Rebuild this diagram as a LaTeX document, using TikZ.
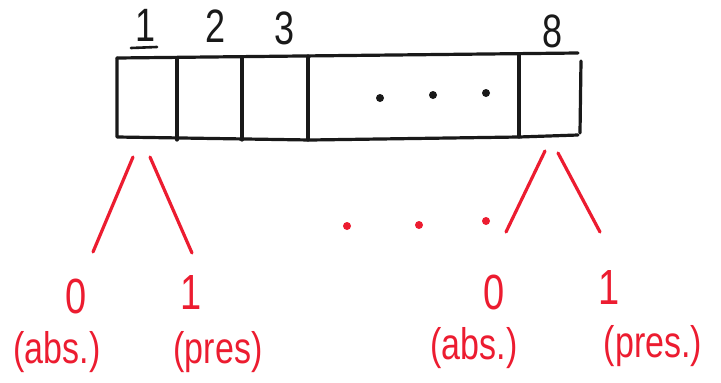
\documentclass[tikz,border=0pt]{standalone}
\usepackage{fontspec}
\setmainfont{Liberation Sans}
\definecolor{pen}{RGB}{236,28,48}
\definecolor{ink}{RGB}{25,25,25}
\newcommand{\tall}[1]{\scalebox{1}[1.3]{#1}}
\tikzset{
  inkline/.style={draw=ink, line width=3.2pt, line cap=round, line join=round},
  penline/.style={draw=pen, line width=3.2pt, line cap=round},
  cellnum/.style={text=ink, font=\fontsize{36}{40}\selectfont, inner sep=0pt},
  bitval/.style={text=pen, font=\fontsize{38}{42}\selectfont, inner sep=0pt},
  bitnote/.style={text=pen, font=\fontsize{34}{40}\selectfont, inner sep=0pt},
  pendot/.style={circle, fill=pen, inner sep=0pt, minimum size=8pt},
  inkdot/.style={circle, fill=ink, inner sep=0pt, minimum size=8pt}
}
\begin{document}
\begin{tikzpicture}[x=1pt, y=-1pt]
  \useasboundingbox (0,0) rectangle (721,383);

  % the register of eight cells
  \coordinate (tl) at (117,58);
  \coordinate (tr) at (578,53);
  \coordinate (bl) at (117,137);
  \coordinate (bm) at (310,140);
  \coordinate (br) at (578,135);
  \draw[inkline] (tl) -- (tr);
  \draw[inkline] (tl) -- (bl) -- (bm) -- (519,137) -- (br);
  \draw[inkline] (581,61) -- (580,133);
  \draw[inkline] (177,58) -- (177,140);
  \draw[inkline] (242,57) -- (242,140);
  \draw[inkline] (308,56) -- (308,140);
  \draw[inkline] (519,55) -- (519,137);

  % cell numbers
  \node[cellnum] (n1) at (146,25) {\tall{1}};
  \draw[inkline, line width=2.6pt] (131,48) -- (157,47);
  \node[cellnum] (n2) at (216,26) {\tall{2}};
  \node[cellnum] (n3) at (285,28) {\tall{3}};
  \node[cellnum] (n8) at (553,31) {\tall{8}};

  % ellipsis inside the register
  \node[inkdot] (d1) at (380,98) {};
  \node[inkdot] (d2) at (433,95) {};
  \node[inkdot] (d3) at (486,93) {};

  % branching of cell 1
  \coordinate (a1) at (133,157);
  \coordinate (a2) at (93,252);
  \coordinate (b1) at (150,157);
  \coordinate (b2) at (192,253);
  \draw[penline] (a1) -- (a2);
  \draw[penline] (b1) -- (b2);

  % branching of cell 8
  \coordinate (c1) at (545,151);
  \coordinate (c2) at (506,232);
  \coordinate (e1) at (558,153);
  \coordinate (e2) at (600,232);
  \draw[penline] (c1) -- (c2);
  \draw[penline] (e1) -- (e2);

  % ellipsis between the two branchings
  \node[pendot] (r1) at (347,226) {};
  \node[pendot] (r2) at (419,225) {};
  \node[pendot] (r3) at (486,221) {};

  % values and their meaning
  \node[bitval] (z1) at (76,296) {\tall{0}};
  \node[bitval] (o1) at (191,293) {\tall{1}};
  \node[bitval] (z8) at (494,292) {\tall{0}};
  \node[bitval] (o8) at (609,288) {\tall{1}};
  \node[bitnote] (ab1) at (57,352) {\tall{(abs.)}};
  \node[bitnote] (pr1) at (218,352) {\tall{(pres)}};
  \node[bitnote] (ab8) at (474,348) {\tall{(abs.)}};
  \node[bitnote] (pr8) at (653,346) {\tall{(pres.)}};
\end{tikzpicture}
\end{document}
